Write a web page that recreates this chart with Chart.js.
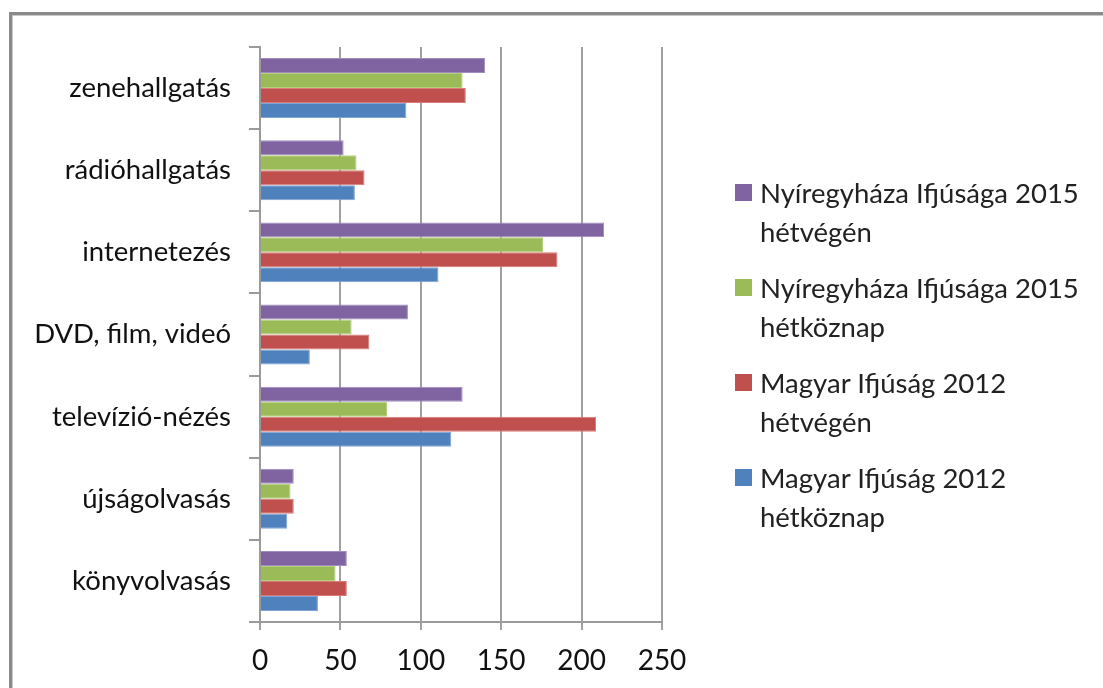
<!DOCTYPE html>
<html lang="hu">

<head>
    <meta charset="UTF-8">
    <script src="https://cdn.jsdelivr.net/npm/chart.js"></script>
    <title>Szabadidő</title>
    <style>
        body { margin: 0; background: #fff; }
        #wrap { position: relative; width: 1103px; height: 688px; overflow: hidden; }
        #frame {
            position: absolute; left: 9px; top: 12px; width: 1110px; height: 700px;
            border-left: 3px solid #8a8a8a; border-top: 3px solid #8a8a8a;
            box-shadow: inset 1px 1px 0 #c8c8c8;
        }
        canvas { position: absolute; left: 0; top: 0; }
        #legend { position: absolute; left: 735px; top: 173px; font-family: Lato, "Open Sans", sans-serif; font-size: 27.5px; color: #222; }
        .item { position: relative; padding-left: 25px; line-height: 39px; margin-bottom: 17px; white-space: nowrap; }
        .item span.box { position: absolute; left: 0; top: 11px; width: 17px; height: 17px; }
    </style>
</head>

<body>
    <div id="wrap">
        <div id="frame"></div>
        <canvas id="ido" width="1103" height="688"></canvas>
        <div id="legend"></div>
    </div>
</body>

</html>
<script>
    // tevékenységek (fentről lefelé)
    const kategoriak = ['zenehallgatás', 'rádióhallgatás', 'internetezés', 'DVD, film, videó', 'televízió-nézés', 'újságolvasás', 'könyvolvasás'];

    const nyiregyhazaHetvege = [140, 52, 214, 92, 126, 21, 54];
    const nyiregyhazaHetkoz = [126, 60, 176, 57, 79, 19, 47];
    const magyarHetvege = [128, 65, 185, 68, 209, 21, 54];
    const magyarHetkoz = [91, 59, 111, 31, 119, 17, 36];

    const sorozatNevek = [
        ['Nyíregyháza Ifjúsága 2015', 'hétvégén'],
        ['Nyíregyháza Ifjúsága 2015', 'hétköznap'],
        ['Magyar Ifjúság 2012', 'hétvégén'],
        ['Magyar Ifjúság 2012', 'hétköznap']
    ];
    const szinek = ['#8064A2', '#9BBB59', '#C0504D', '#4F81BD'];
    const keretek = ['#a08cc0', '#b5d07c', '#d87a77', '#7ea3d4'];

    const tengelyOsztas = [0, 50, 100, 150, 200, 250];

    const ertekek = [nyiregyhazaHetvege, nyiregyhazaHetkoz, magyarHetvege, magyarHetkoz];
    const datasets = ertekek.map(function (adat, i) {
        return {
            label: sorozatNevek[i].join(' '),
            data: adat,
            backgroundColor: szinek[i],
            borderColor: keretek[i],
            borderWidth: 1,
            categoryPercentage: 0.73,
            barPercentage: 1
        };
    });

    const betu = { family: 'Lato, "Open Sans", sans-serif', size: 27.5 };

    new Chart(document.getElementById('ido'), {
        type: 'bar',
        data: { labels: kategoriak, datasets: datasets },
        options: {
            indexAxis: 'y',
            responsive: false,
            animation: false,
            layout: { padding: { top: 47, right: 441, left: 0, bottom: 0 } },
            plugins: { legend: { display: false }, tooltip: { enabled: false } },
            scales: {
                x: {
                    min: 0,
                    max: 250,
                    afterBuildTicks: function (s) { s.ticks = tengelyOsztas.map(v => ({ value: v })); },
                    afterFit: function (s) { s.height = 66; },
                    border: { color: '#9a9a9a', width: 2 },
                    grid: { color: '#a0a0a0', lineWidth: 2, tickLength: 8, drawTicks: true },
                    ticks: { color: '#111', font: { family: betu.family, size: 28 }, padding: 14 }
                },
                y: {
                    afterFit: function (s) { s.width = 260; },
                    border: { color: '#9a9a9a', width: 2 },
                    grid: { color: '#9a9a9a', lineWidth: 2, drawOnChartArea: false, tickLength: 11 },
                    ticks: { color: '#111', font: betu, padding: 18 }
                }
            }
        }
    });

    // jelmagyarázat
    const legend = document.getElementById('legend');
    sorozatNevek.forEach(function (nev, i) {
        const d = document.createElement('div');
        d.className = 'item';
        d.innerHTML = '<span class="box" style="background:' + szinek[i] + '"></span>' + nev[0] + '<br>' + nev[1];
        legend.appendChild(d);
    });
</script>
